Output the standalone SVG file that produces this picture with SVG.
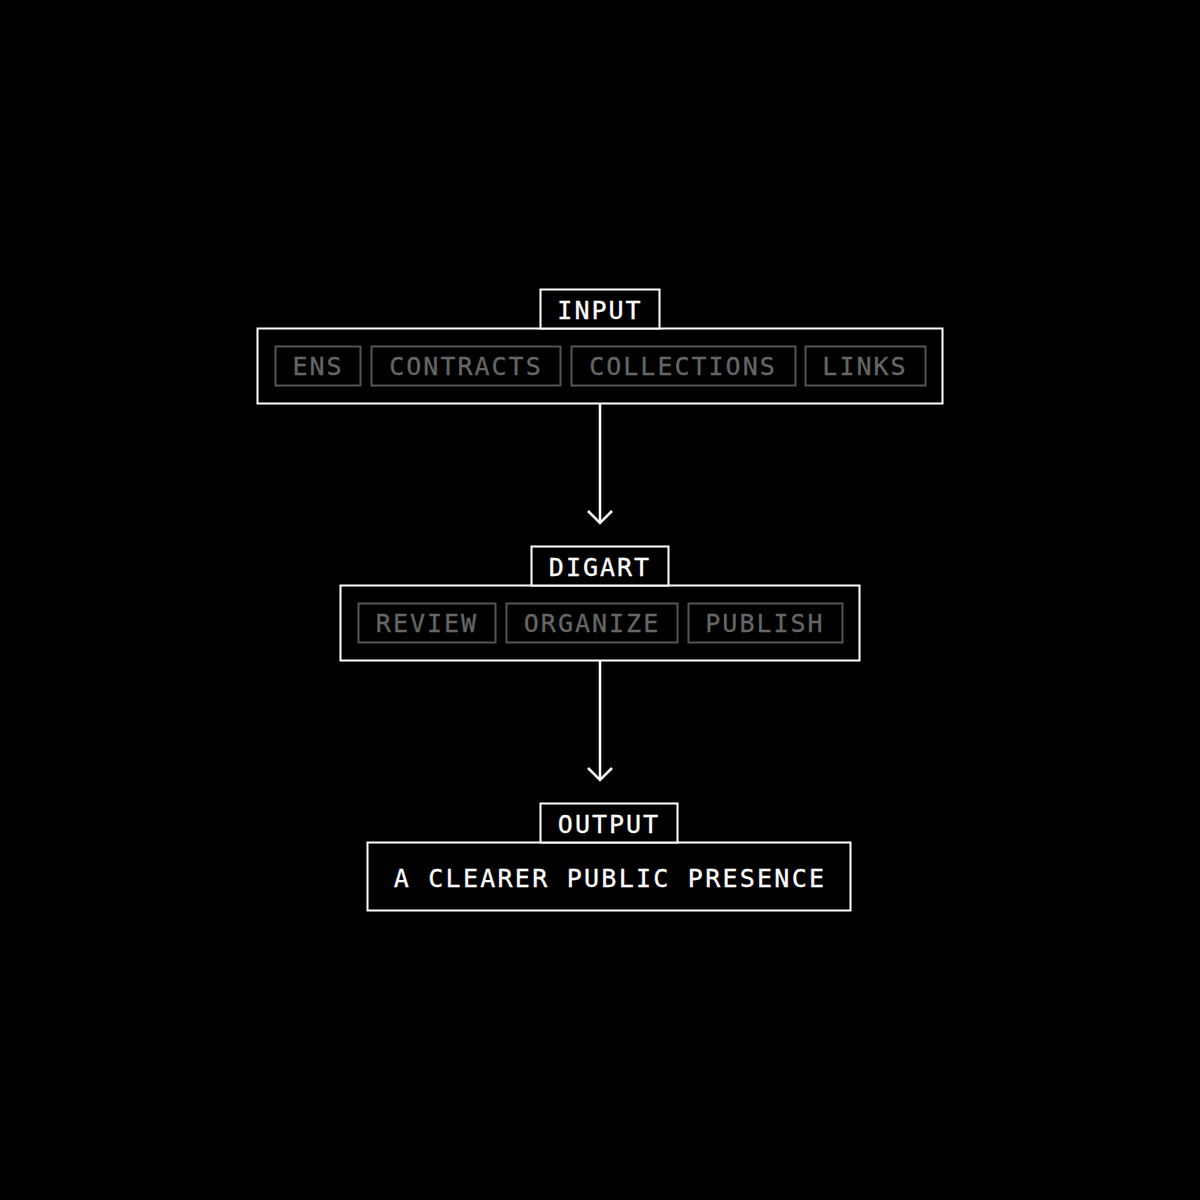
<svg xmlns="http://www.w3.org/2000/svg" width="1200" height="1200" viewBox="0 0 1200 1200">
<style>
.frame{fill:#000;stroke:#fff;stroke-width:2}
.chip{fill:none;stroke:#555;stroke-width:2}
.t{font-family:"DejaVu Sans Mono","Liberation Mono",monospace;font-size:25px;letter-spacing:2px;text-anchor:middle}
.title{fill:#fff;stroke:#fff;stroke-width:0.3}
.ct{fill:#666;stroke:#666;stroke-width:0.3}
.main{fill:#fff;stroke:#fff;stroke-width:0.3;letter-spacing:2.25px}
.conn{stroke:#fff;stroke-width:2.5;fill:none}
</style>
<rect width="1200" height="1200" fill="#000"/>
<g id="connectors">
<line class="conn" x1="600" y1="403" x2="600" y2="522"/>
<polyline class="conn" points="588,511 600,523 612,511"/>
<line class="conn" x1="600" y1="660" x2="600" y2="779"/>
<polyline class="conn" points="588,768 600,780 612,768"/>
</g>
<g id="input">
<rect class="frame" x="257.5" y="328.5" width="685" height="75"/>
<rect class="frame" x="540.5" y="289.5" width="119" height="39"/>
<text class="t title" x="600" y="319">INPUT</text>
<rect class="chip" x="275.5" y="346.5" width="85" height="39"/>
<text class="t ct" x="318" y="375">ENS</text>
<rect class="chip" x="371.5" y="346.5" width="189" height="39"/>
<text class="t ct" x="466" y="375">CONTRACTS</text>
<rect class="chip" x="571.5" y="346.5" width="224" height="39"/>
<text class="t ct" x="683" y="375">COLLECTIONS</text>
<rect class="chip" x="805.5" y="346.5" width="120" height="39"/>
<text class="t ct" x="865" y="375">LINKS</text>
</g>
<g id="digart">
<rect class="frame" x="340.5" y="585.5" width="519" height="75"/>
<rect class="frame" x="531.5" y="546.5" width="137" height="39"/>
<text class="t title" x="600" y="576">DIGART</text>
<rect class="chip" x="358.5" y="603.5" width="137" height="39"/>
<text class="t ct" x="427" y="632">REVIEW</text>
<rect class="chip" x="506.5" y="603.5" width="171" height="39"/>
<text class="t ct" x="592" y="632">ORGANIZE</text>
<rect class="chip" x="688.5" y="603.5" width="154" height="39"/>
<text class="t ct" x="765" y="632">PUBLISH</text>
</g>
<g id="output">
<rect class="frame" x="367.5" y="842.5" width="483" height="68"/>
<rect class="frame" x="540.5" y="803.5" width="137" height="39"/>
<text class="t title" x="609" y="833">OUTPUT</text>
<text class="t main" x="610" y="887">A CLEARER PUBLIC PRESENCE</text>
</g>
</svg>
